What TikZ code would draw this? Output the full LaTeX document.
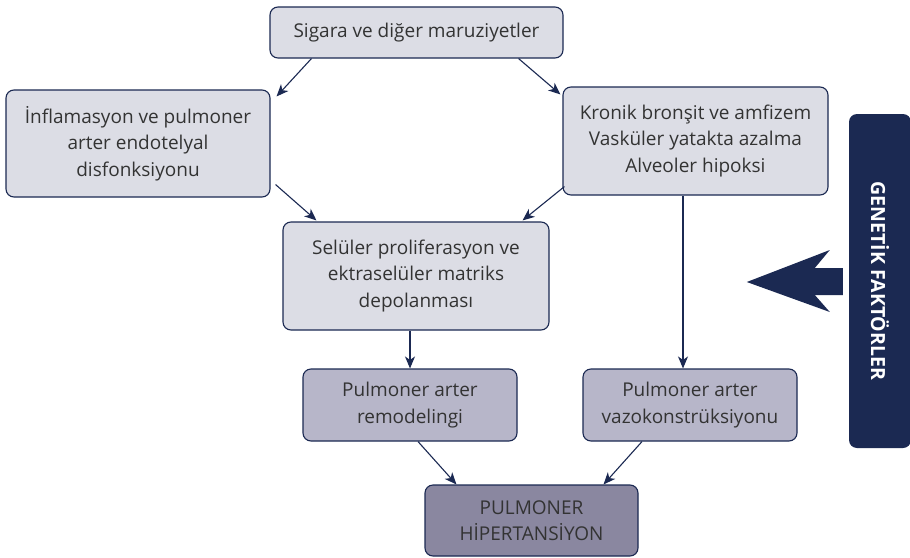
\documentclass[tikz,border=0pt]{standalone}
\usepackage{fontspec}
\setmainfont{Open Sans}
\usetikzlibrary{arrows.meta,calc}
\definecolor{navy}{RGB}{27,41,82}
\definecolor{boxlight}{RGB}{220,221,229}
\definecolor{boxmid}{RGB}{183,182,201}
\definecolor{boxdark}{RGB}{138,135,160}
\definecolor{txt}{RGB}{51,51,51}
\begin{document}
\begin{tikzpicture}[x=1pt,y=-1pt,
  box/.style={draw=navy,line width=1.1pt,rounded corners=8pt,align=center,
    text=txt,inner sep=0pt,font=\fontsize{19}{26.5}\selectfont},
  light/.style={box,fill=boxlight},
  mid/.style={box,fill=boxmid},
  dark/.style={box,fill=boxdark},
  arr/.style={draw=navy,line width=1.1pt,-{Stealth[length=12pt,width=10pt,inset=3.5pt]}}]
\useasboundingbox (0,0) rectangle (910,557);

% boxes of the pathway
\node[light,minimum width=293pt,minimum height=51pt] (top) at (416.5,32.5) {Sigara ve diğer maruziyetler};
\node[light,minimum width=264pt,minimum height=107pt] (left) at (138,143.5) {İnflamasyon ve pulmoner\\arter endotelyal\\disfonksiyonu};
\node[light,minimum width=265pt,minimum height=108pt] (right) at (695.5,141) {Kronik bronşit ve amfizem\\Vasküler yatakta azalma\\Alveoler hipoksi};
\node[light,minimum width=266pt,minimum height=108pt] (midbox) at (416,276) {Selüler proliferasyon ve\\ektraselüler matriks\\depolanması};
\node[mid,minimum width=214pt,minimum height=72pt] (rem) at (410,405) {Pulmoner arter\\remodelingi};
\node[mid,minimum width=214pt,minimum height=72pt] (vaz) at (690,405) {Pulmoner arter\\vazokonstrüksiyonu};
\node[dark,minimum width=213pt,minimum height=71pt] (ph) at (531.5,520.5) {PULMONER\\HİPERTANSİYON};

% genetic factors bar
\node[fill=navy,rounded corners=8pt,minimum width=62pt,minimum height=334pt,inner sep=0pt] (gen) at (880,281) {};
\node[rotate=-90,text=white,font=\fontsize{19.5}{22}\selectfont\bfseries] (gentext) at (gen.center) {GENETİK FAKTÖRLER};

% broad arrow pointing away from the bar
\fill[navy] ($(gen.west)+(-102,1)$) -- ($(gen.west)+(-19,-31)$) -- ($(gen.west)+(-34,-13)$)
  -- ($(gen.west)+(-6,-13)$) -- ($(gen.west)+(-6,14)$) -- ($(gen.west)+(-34,14)$)
  -- ($(gen.west)+(-19,31)$) -- cycle;

% connectors
\draw[arr] ([xshift=42pt]top.south west) -- ([xshift=6pt,yshift=-7pt]left.north east);
\draw[arr] ([xshift=-45pt]top.south east) -- ([xshift=-2pt,yshift=-8pt]right.north west);
\draw[arr] ([xshift=5pt,yshift=13pt]left.south east) -- ([xshift=34pt,yshift=1pt]midbox.north west);
\draw[arr] ([xshift=2pt,yshift=9pt]right.south west) -- ([xshift=-27pt,yshift=1pt]midbox.north east);
\draw[arr] (midbox.south -| rem.north) -- (rem.north);
\coordinate (vx) at ([xshift=-7pt]vaz.north);
\draw[arr] (right.south -| vx) -- (vx);
\draw[arr] ([xshift=8pt]rem.south) -- ([xshift=32pt]ph.north west);
\draw[arr] ([xshift=-48pt]vaz.south) -- ([xshift=-35pt]ph.north east);
\end{tikzpicture}
\end{document}
